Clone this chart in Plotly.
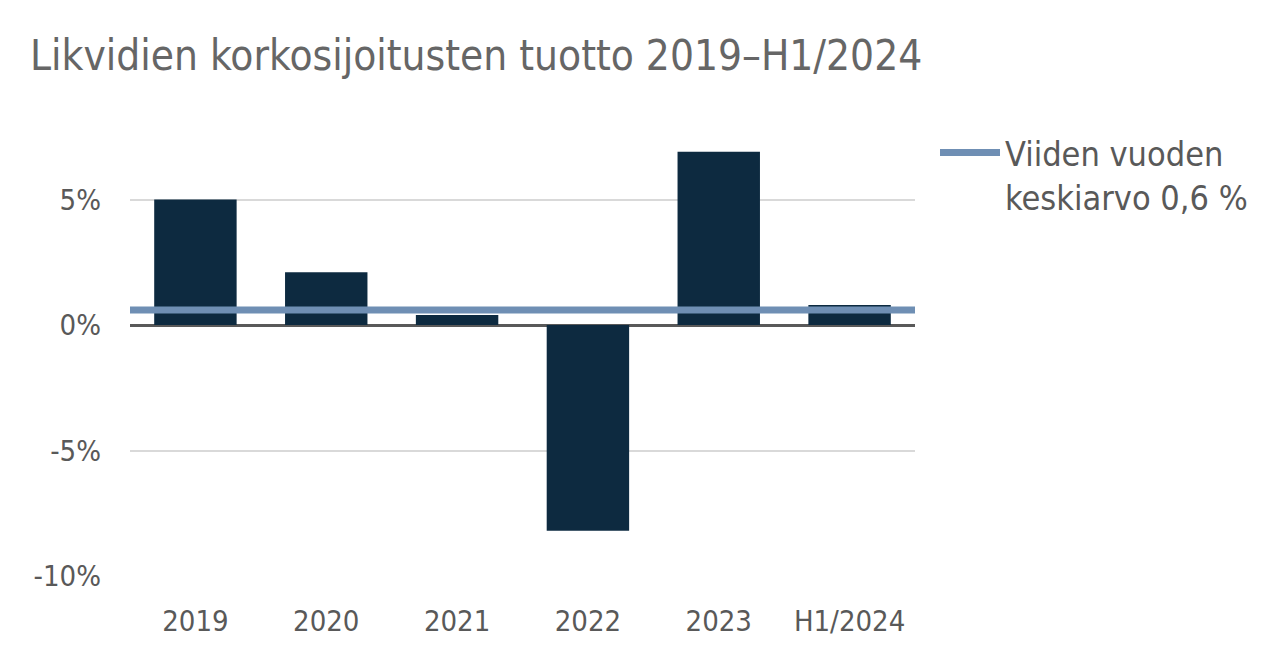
import plotly.graph_objects as go

categories = ["2019", "2020", "2021", "2022", "2023", "H1/2024"]
returns = [5.0, 2.1, 0.4, -8.2, 6.9, 0.8]
avg_value = 0.6
avg_label = "Viiden vuoden<br>keskiarvo 0,6 %"
title_text = "Likvidien korkosijoitusten tuotto 2019\u2013H1/2024"
y_ticks = [-10, -5, 0, 5]
y_ticktext = ["-10%", "-5%", "0%", "5%"]

FONT = "DejaVu Sans Condensed"
TXT = "#595959"

fig = go.Figure()
fig.add_trace(go.Bar(
    x=categories, y=returns, marker_color="#0d2a40",
    marker_line_width=0, showlegend=False, width=0.63,
))
fig.add_trace(go.Scatter(
    x=[0, 1], y=[avg_value, avg_value], xaxis="x2", mode="lines",
    line=dict(color="#6f8fb4", width=7), name=avg_label,
))

fig.update_layout(
    width=1288, height=672,
    margin=dict(l=130, r=373, t=74, b=96),
    plot_bgcolor="white", paper_bgcolor="white",
    font=dict(family=FONT, color=TXT, size=29),
    title=dict(text=title_text, x=30/1288, xanchor="left", y=1-55/672, yanchor="middle",
               font=dict(family=FONT, size=42, color="#666666")),
    xaxis=dict(showgrid=False, showline=False, ticks="", ticklabelstandoff=25,
               tickfont=dict(size=29, color=TXT)),
    xaxis2=dict(overlaying="x", range=[0, 1], visible=False),
    yaxis=dict(range=[-10, 10], tickvals=y_ticks, ticktext=y_ticktext,
               showgrid=True, gridcolor="#d9d9d9", gridwidth=2,
               zeroline=True, zerolinecolor="#595959", zerolinewidth=2.5,
               ticklabelstandoff=28, tickfont=dict(size=29, color=TXT)),
    legend=dict(x=(935-130)/785, y=(576-124)/502, xanchor="left", yanchor="top",
                font=dict(size=34, color=TXT), bgcolor="rgba(0,0,0,0)",
                itemwidth=60, valign="top"),
    bargap=0.37,
)
fig.write_html("out.html")
